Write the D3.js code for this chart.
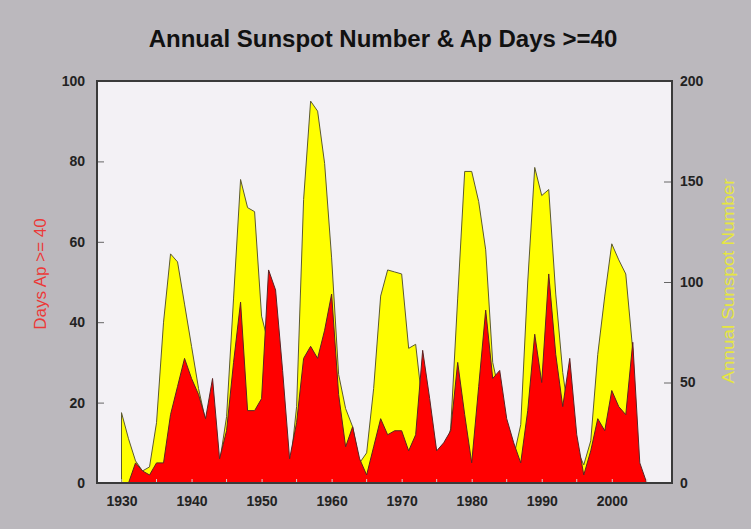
<!DOCTYPE html>
<html>
<head>
<meta charset="utf-8">
<script src="https://cdn.jsdelivr.net/npm/d3@7"></script>
<style>
  body { margin: 0; background: #bbb8bd; }
  svg { display: block; font-family: "Liberation Sans", Arial, sans-serif; }
</style>
</head>
<body>
<div id="chart"></div>
<script>
// annual sunspot number, 1930 - 2003 (right axis)
const sunspotStart = 1930;
const sunspotNumber = [
  35, 22, 11, 6, 8, 30, 80, 114, 110, 89,
  68, 47, 31, 17, 10, 33, 92, 151, 137, 135,
  83, 69, 32, 14, 5, 38, 141, 190, 185, 159,
  112, 54, 37, 28, 10, 15, 47, 93, 106, 105,
  104, 67, 69, 38, 34, 15, 13, 27, 92, 155,
  155, 140, 116, 60, 44, 18, 13, 29, 100, 157,
  143, 146, 94, 55, 30, 17, 9, 21, 64, 93,
  119, 111, 104, 66
];

// days with Ap >= 40, 1931 - 2005 (left axis)
const apStart = 1931;
const apDays = [
  0, 5, 3, 2, 5, 5, 17, 24, 31,
  26, 22, 16, 26, 6, 13, 30, 45, 18, 18,
  21, 53, 48, 28, 6, 15, 31, 34, 31, 38,
  47, 22, 9, 14, 6, 2, 9, 16, 12, 13,
  13, 8, 12, 33, 21, 8, 10, 13, 30, 17,
  5, 24, 43, 26, 28, 16, 10, 5, 18, 37,
  25, 52, 32, 19, 31, 12, 2, 8, 16, 13,
  23, 19, 17, 35, 5, 0
];

const yearTicks = [1930, 1940, 1950, 1960, 1970, 1980, 1990, 2000];
const leftTicks = [0, 20, 40, 60, 80, 100];
const rightTicks = [0, 50, 100, 150, 200];

const chartTitle = "Annual Sunspot Number & Ap Days >=40";
const leftTitle = "Days Ap >= 40";
const rightTitle = "Annual Sunspot Number";

const W = 751, H = 529;
const plot = { left: 97, top: 81, right: 672, bottom: 483 };

const svg = d3.select("#chart").append("svg")
    .attr("width", W)
    .attr("height", H);

svg.append("rect")
    .attr("width", W).attr("height", H)
    .attr("fill", "#bbb8bd");

// scales
const x = d3.scaleLinear()
    .domain([1926.5, 2008.6])
    .range([plot.left, plot.right]);

const yL = d3.scaleLinear()
    .domain([0, 100])
    .range([plot.bottom, plot.top]);

const yR = d3.scaleLinear()
    .domain([0, 200])
    .range([plot.bottom, plot.top]);

// plot background
svg.append("rect")
    .attr("x", plot.left).attr("y", plot.top)
    .attr("width", plot.right - plot.left)
    .attr("height", plot.bottom - plot.top)
    .attr("fill", "#f3f1f5");

const ssnData = sunspotNumber.map((v, i) => ({ year: sunspotStart + i, value: v }));
const apData = apDays.map((v, i) => ({ year: apStart + i, value: v }));

// sunspot area (yellow, behind)
const ssnArea = d3.area()
    .x(d => x(d.year))
    .y0(yR(0))
    .y1(d => yR(d.value));

svg.append("path")
    .datum(ssnData)
    .attr("d", ssnArea)
    .attr("fill", "#ffff00")
    .attr("stroke", "#5c5a30")
    .attr("stroke-width", 1);

// Ap days area (red, in front)
const apArea = d3.area()
    .x(d => x(d.year))
    .y0(yL(0))
    .y1(d => yL(d.value));

svg.append("path")
    .datum(apData)
    .attr("d", apArea)
    .attr("fill", "#ff0000")
    .attr("stroke", "#5a2424")
    .attr("stroke-width", 1);

// axes
const axisFont = g => g.selectAll("text")
    .attr("font-size", "14px")
    .attr("font-weight", "bold")
    .attr("fill", "#222");

const xAxis = svg.append("g")
    .attr("transform", "translate(0," + plot.bottom + ")")
    .call(d3.axisBottom(x)
        .tickValues(yearTicks)
        .tickFormat(d3.format("d"))
        .tickSize(-4)
        .tickPadding(13));
xAxis.select(".domain").remove();
xAxis.selectAll("line").attr("stroke", "#d8c8c8");
xAxis.call(axisFont);

// minor year ticks every 5 years
svg.append("g").selectAll("line")
    .data(d3.range(1935, 2006, 10))
    .join("line")
    .attr("x1", d => x(d)).attr("x2", d => x(d))
    .attr("y1", plot.bottom).attr("y2", plot.bottom - 4)
    .attr("stroke", "#d8c8c8");

const leftAxis = svg.append("g")
    .attr("transform", "translate(" + plot.left + ",0)")
    .call(d3.axisLeft(yL)
        .tickValues(leftTicks)
        .tickSize(-7)
        .tickPadding(12));
leftAxis.select(".domain").remove();
leftAxis.selectAll("line").attr("stroke", "#666");
leftAxis.call(axisFont);

const rightAxis = svg.append("g")
    .attr("transform", "translate(" + plot.right + ",0)")
    .call(d3.axisRight(yR)
        .tickValues(rightTicks)
        .tickSize(-8)
        .tickPadding(8));
rightAxis.select(".domain").remove();
rightAxis.selectAll("line").attr("stroke", "#666");
rightAxis.call(axisFont);

// frame
svg.append("rect")
    .attr("x", plot.left).attr("y", plot.top)
    .attr("width", plot.right - plot.left)
    .attr("height", plot.bottom - plot.top)
    .attr("fill", "none")
    .attr("stroke", "#3a3a3a")
    .attr("stroke-width", 2);

// titles
svg.append("text")
    .attr("x", 383)
    .attr("y", 47)
    .attr("text-anchor", "middle")
    .attr("font-size", "24px")
    .attr("font-weight", "bold")
    .attr("fill", "#111")
    .text(chartTitle);

svg.append("text")
    .attr("transform", "translate(46,274) rotate(-90)")
    .attr("text-anchor", "middle")
    .attr("font-size", "17px")
    .attr("fill", "#ec3838")
    .text(leftTitle);

svg.append("text")
    .attr("transform", "translate(734,281) rotate(-90)")
    .attr("text-anchor", "middle")
    .attr("font-size", "17px")
    .attr("textLength", 205)
    .attr("lengthAdjust", "spacingAndGlyphs")
    .attr("fill", "#e6e640")
    .text(rightTitle);
</script>
</body>
</html>
